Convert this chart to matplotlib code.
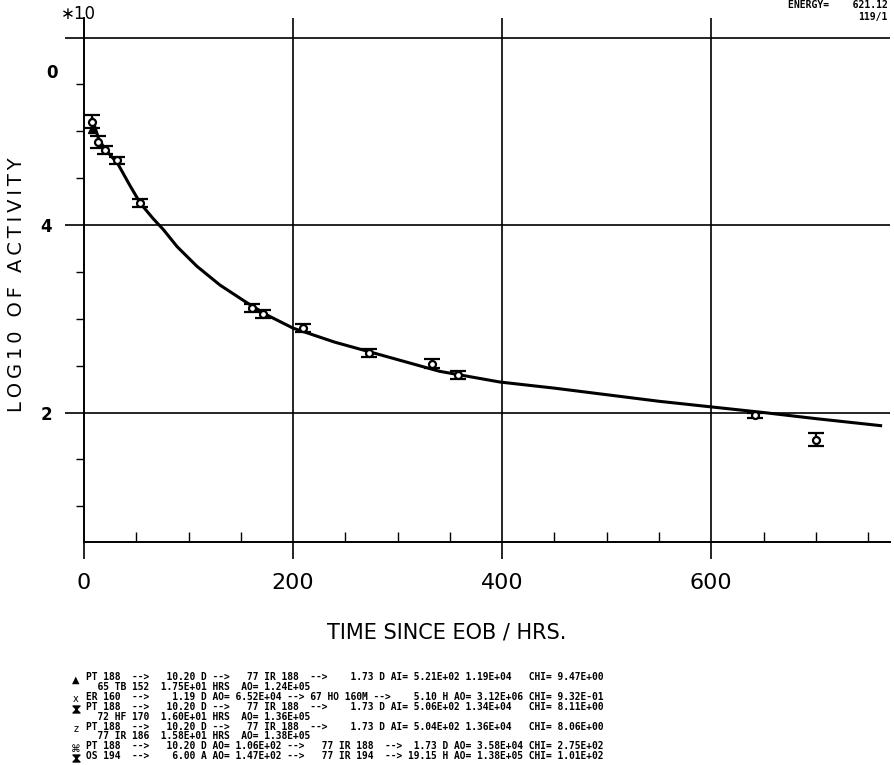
import matplotlib
matplotlib.use("Agg")
import matplotlib.pyplot as plt
from matplotlib.lines import Line2D
from matplotlib.path import Path
from matplotlib.ticker import MultipleLocator

# measured points (hours since EOB, log10 activity)
t_hrs = [7.7, 13.4, 20.1, 31.6, 53.6, 160.8, 171.2, 209.6, 272.7, 333.0, 357.9, 641.4, 700.5]
log_act = [5.10, 4.885, 4.80, 4.69, 4.235, 3.115, 3.05, 2.90, 2.635, 2.52, 2.40, 1.97, 1.71]
log_err = [0.07, 0.06, 0.04, 0.04, 0.04, 0.04, 0.04, 0.04, 0.04, 0.05, 0.04, 0.03, 0.07]

# fitted decay curve
fit_t = [8, 14, 20, 32, 44, 54, 66, 76, 89, 108, 130, 156, 175, 200, 240, 274, 340,
         398, 450, 500, 550, 600, 650, 700, 762]
fit_y = [5.13, 4.92, 4.81, 4.66, 4.42, 4.23, 4.07, 3.95, 3.77, 3.56, 3.36, 3.17, 3.04,
         2.90, 2.75, 2.645, 2.44, 2.325, 2.26, 2.19, 2.12, 2.06, 2.00, 1.935, 1.86]

x_ticks = [0, 200, 400, 600]
y_ticks = [2, 4, 6]
y_labels = ["2", "4", ""]

legend_lines = [
    "PT 188  -->   10.20 D -->   77 IR 188  -->    1.73 D AI= 5.21E+02 1.19E+04   CHI= 9.47E+00",
    "  65 TB 152  1.75E+01 HRS  AO= 1.24E+05",
    "ER 160  -->    1.19 D AO= 6.52E+04 --> 67 HO 160M -->    5.10 H AO= 3.12E+06 CHI= 9.32E-01",
    "PT 188  -->   10.20 D -->   77 IR 188  -->    1.73 D AI= 5.06E+02 1.34E+04   CHI= 8.11E+00",
    "  72 HF 170  1.60E+01 HRS  AO= 1.36E+05",
    "PT 188  -->   10.20 D -->   77 IR 188  -->    1.73 D AI= 5.04E+02 1.36E+04   CHI= 8.06E+00",
    "  77 IR 186  1.58E+01 HRS  AO= 1.38E+05",
    "PT 188  -->   10.20 D AO= 1.06E+02 -->   77 IR 188  -->  1.73 D AO= 3.58E+04 CHI= 2.75E+02",
    "OS 194  -->    6.00 A AO= 1.47E+02 -->   77 IR 194  --> 19.15 H AO= 1.38E+05 CHI= 1.01E+02",
]
# "hg" = hourglass shape drawn as a marker
legend_syms = ["\u25b2", "", "x", "hg", "", "z", "", "\u2318", "hg"]

hourglass = Path([(-1, 1), (1, 1), (-1, -1), (1, -1), (-1, 1)],
                 [Path.MOVETO, Path.LINETO, Path.LINETO, Path.LINETO, Path.CLOSEPOLY])

W, H = 895, 765
fig = plt.figure(figsize=(W / 100, H / 100), dpi=100)
ax = fig.add_axes([84 / W, (H - 542) / H, (890 - 84) / W, (542 - 18) / H])

ax.set_xlim(0, 771)
ax.set_ylim(0.619, 6.208)

# grid lines
for xv in x_ticks[1:]:
    ax.axvline(xv, color="black", lw=1.2, zorder=1)
for yv in y_ticks:
    ax.axhline(yv, color="black", lw=1.2, zorder=1)

ax.plot(fit_t, fit_y, color="black", lw=2.2, zorder=3)
ax.errorbar(t_hrs, log_act, yerr=log_err, fmt="o", mfc="white", mec="black",
            ms=5, mew=1.6, ecolor="black", elinewidth=1.6, capsize=6,
            capthick=1.8, zorder=4)
ax.plot([t_hrs[0]], [log_act[0] - 0.08], marker="^", color="black", ms=6, zorder=5)

for s in ["top", "right"]:
    ax.spines[s].set_visible(False)
ax.spines["left"].set_linewidth(1.4)
ax.spines["bottom"].set_linewidth(1.4)

ax.set_xticks(x_ticks)
ax.set_xticklabels([str(v) for v in x_ticks], fontsize=16)
ax.xaxis.set_minor_locator(MultipleLocator(50))
ax.tick_params(axis="x", which="major", direction="out", length=12, width=1.2, pad=10)
ax.tick_params(axis="x", which="minor", direction="in", length=7, width=1.0)

ax.set_yticks(y_ticks)
ax.set_yticklabels(y_labels, fontsize=12, fontweight="bold")
ax.yaxis.set_minor_locator(MultipleLocator(0.5))
ax.tick_params(axis="y", which="major", direction="out", length=14, width=1.2, pad=9)
ax.tick_params(axis="y", which="minor", direction="out", length=6, width=1.0)
ax.text(-31, 5.62, "0", fontsize=12, fontweight="bold", ha="center", va="center")

ylab = "\u2009".join("LOG10 OF ACTIVITY")
fig.text(17 / W, 1 - 285 / H, ylab, rotation=90, fontsize=14,
         ha="center", va="center")
fig.text(447 / W, 1 - 632 / H, "TIME SINCE EOB / HRS.", fontsize=15,
         ha="center", va="center")
fig.text(78 / W, 1 - 14 / H, "\u221710", fontsize=12, ha="center", va="center")
fig.text(888 / W, 1 - 5 / H, "ENERGY=    621.12", fontsize=7, fontweight="bold",
         ha="right", va="center", family="DejaVu Sans Mono")
fig.text(888 / W, 1 - 17 / H, "119/1", fontsize=7, fontweight="bold",
         ha="right", va="center", family="DejaVu Sans Mono")

for i, (sym, line) in enumerate(zip(legend_syms, legend_lines)):
    yy = 1 - (677 + i * 9.9) / H
    if sym == "hg":
        fig.add_artist(Line2D([76 / W], [yy - 0.003], marker=hourglass, ms=5,
                              color="black", transform=fig.transFigure))
    elif sym:
        fig.text(76 / W, yy - 0.003, sym, fontsize=7, ha="center", va="center",
                 family=["DejaVu Sans", "Noto Sans"])
    fig.text(86 / W, yy, line, fontsize=6.9, fontweight="bold", ha="left",
             va="center", family="DejaVu Sans Mono")

fig.savefig("out.png", dpi=100)
